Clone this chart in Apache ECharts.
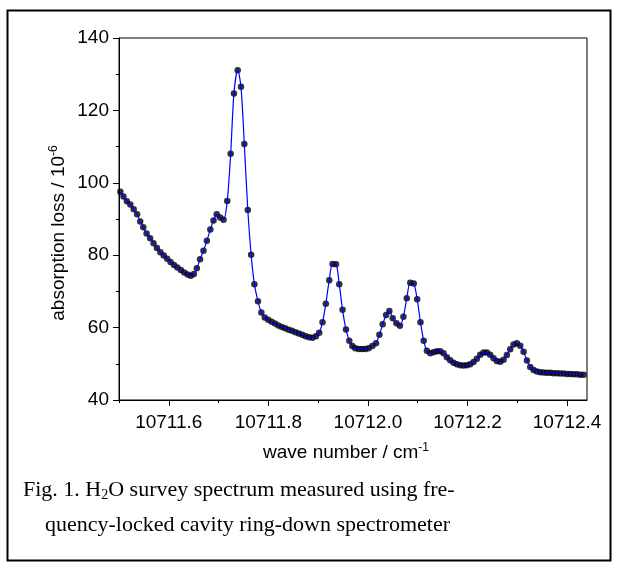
<!DOCTYPE html>
<html>
<head>
<meta charset="utf-8">
<script src="https://cdn.jsdelivr.net/npm/echarts@6/dist/echarts.min.js"></script>
<style>
html,body{margin:0;padding:0;background:#fff;}
#chart{width:621px;height:569px;}
</style>
</head>
<body>
<div id="chart"></div>
<script>
// wave number (cm^-1)
var waveNumber = [
10711.5027,10711.5090,10711.5158,10711.5227,10711.5295,10711.5364,10711.5426,10711.5488,10711.5555,10711.5625,
10711.5694,10711.5762,10711.5831,10711.5899,10711.5968,10711.6036,10711.6105,10711.6173,10711.6242,10711.6310,
10711.6379,10711.6443,10711.6504,10711.6564,10711.6628,10711.6697,10711.6765,10711.6834,10711.6898,10711.6963,
10711.7031,10711.7100,10711.7174,10711.7243,10711.7309,10711.7384,10711.7450,10711.7517,10711.7587,10711.7654,
10711.7720,10711.7791,10711.7859,10711.7928,10711.7996,10711.8065,10711.8133,10711.8201,10711.8270,10711.8338,
10711.8407,10711.8475,10711.8544,10711.8612,10711.8681,10711.8749,10711.8818,10711.8886,10711.8955,10711.9021,
10711.9088,10711.9154,10711.9223,10711.9289,10711.9358,10711.9424,10711.9490,10711.9559,10711.9625,10711.9686,
10711.9746,10711.9813,10711.9881,10711.9948,10712.0014,10712.0089,10712.0163,10712.0230,10712.0296,10712.0365,
10712.0431,10712.0498,10712.0572,10712.0643,10712.0713,10712.0780,10712.0850,10712.0920,10712.0989,10712.1055,
10712.1120,10712.1184,10712.1251,10712.1317,10712.1384,10712.1452,10712.1519,10712.1585,10712.1652,10712.1719,
10712.1786,10712.1853,10712.1920,10712.1987,10712.2054,10712.2121,10712.2188,10712.2255,10712.2322,10712.2389,
10712.2456,10712.2523,10712.2590,10712.2657,10712.2724,10712.2791,10712.2858,10712.2925,10712.2992,10712.3059,
10712.3126,10712.3193,10712.3260,10712.3327,10712.3394,10712.3461,10712.3528,10712.3595,10712.3662,10712.3729,
10712.3796,10712.3863,10712.3930,10712.3997,10712.4064,10712.4131,10712.4198,10712.4265,10712.4332
];
// absorption loss (10^-6)
var absorptionLoss = [
97.5,96.2,94.9,94.0,92.7,91.3,89.3,87.7,86.0,84.7,
83.3,82.0,80.8,79.9,79.0,78.1,77.3,76.6,75.9,75.2,
74.7,74.3,74.8,76.4,78.9,81.2,84.0,87.1,89.6,91.3,
90.4,89.8,95.0,108.0,124.7,131.1,126.5,110.7,92.5,80.1,
72.0,67.3,64.2,62.8,62.2,61.6,61.1,60.6,60.2,59.8,
59.4,59.1,58.7,58.4,58.0,57.6,57.3,57.2,57.6,58.6,
61.5,66.6,73.1,77.6,77.5,72.0,64.9,59.5,56.4,54.9,
54.3,54.1,54.1,54.1,54.3,54.9,55.7,58.0,60.9,63.5,
64.6,62.6,61.2,60.5,63.0,68.1,72.4,72.2,67.8,61.5,
56.4,53.6,52.9,53.2,53.5,53.5,52.9,51.8,51.0,50.3,
49.9,49.6,49.5,49.6,49.9,50.5,51.4,52.5,53.1,53.1,
52.5,51.5,50.8,50.6,51.1,52.4,54.0,55.3,55.7,55.0,
53.3,50.9,49.1,48.3,47.9,47.7,47.6,47.5,47.5,47.4,
47.4,47.3,47.3,47.2,47.2,47.1,47.1,47.0,47.0
];
var xMajorTicks = [10711.6,10711.8,10712.0,10712.2,10712.4];
var xMinorTicks = [10711.5,10711.7,10711.9,10712.1,10712.3];
var yTicks = [40,60,80,100,120,140];

var pts = waveNumber.map(function(x,i){return [x, absorptionLoss[i]];});

var chart = echarts.init(document.getElementById('chart'), null, {renderer:'canvas'});
var SANS = 'Liberation Sans, Arial, sans-serif';
var SERIF = 'Liberation Serif, Times New Roman, serif';
var option = {
  backgroundColor:'#fff',
  animation:false,
  grid:{left:119,top:38,right:34,bottom:169,show:true,borderColor:'#000',borderWidth:1,backgroundColor:'transparent'},
  xAxis:[{
    type:'value',min:10711.5,max:10712.44,
    axisLine:{show:true,onZero:false,lineStyle:{color:'#000',width:1}},
    axisTick:{show:true,inside:false,length:6,customValues:xMajorTicks,lineStyle:{color:'#000'}},
    axisLabel:{show:true,margin:13,customValues:xMajorTicks,color:'#000',fontFamily:SANS,fontSize:19,
      formatter:function(v){return v.toFixed(1);}},
    splitLine:{show:false}
  },{
    type:'value',min:10711.5,max:10712.44,position:'bottom',
    axisLine:{show:false},
    axisTick:{show:true,inside:false,length:3,customValues:xMinorTicks,lineStyle:{color:'#000'}},
    axisLabel:{show:false},splitLine:{show:false}
  }],
  yAxis:{
    type:'value',min:40,max:140,interval:20,
    axisLine:{show:true,onZero:false,lineStyle:{color:'#000',width:1}},
    axisTick:{show:true,inside:false,length:6,lineStyle:{color:'#000'}},
    minorTick:{show:true,splitNumber:2,length:3,lineStyle:{color:'#000'}},
    axisLabel:{margin:10,color:'#000',fontFamily:SANS,fontSize:19,
      customValues:yTicks},
    splitLine:{show:false}
  },
  series:[{
    type:'scatter',data:pts,xAxisIndex:0,symbol:'circle',symbolSize:6.5,
    itemStyle:{color:'#000'},z:2
  },{
    type:'line',data:pts,xAxisIndex:0,showSymbol:false,smooth:0.3,
    lineStyle:{color:'#0000ff',width:1.2},z:3
  }],
  graphic:[
    {type:'rect',shape:{x:7.5,y:10.5,width:603,height:550},style:{fill:'none',stroke:'#000',lineWidth:2},z:-1},
    {type:'text',x:59,y:233,rotation:Math.PI/2,style:{
      text:'{a|absorption loss / 10}{s|-6}',align:'center',verticalAlign:'middle',
      rich:{a:{fontFamily:SANS,fontSize:19,fill:'#000'},s:{fontFamily:SANS,fontSize:12,fill:'#000',verticalAlign:'top',padding:[0,0,10,0]}}}},
    {type:'text',x:346,y:453,style:{
      text:'{a|wave number / cm}{s|-1}',align:'center',verticalAlign:'middle',
      rich:{a:{fontFamily:SANS,fontSize:19,fill:'#000'},s:{fontFamily:SANS,fontSize:12,fill:'#000',padding:[0,0,10,0]}}}},
    {type:'text',x:23,y:490,style:{
      text:'{a|Fig. 1. H}{b|2}{a|O survey spectrum measured using fre-}',align:'left',verticalAlign:'middle',
      rich:{a:{fontFamily:SERIF,fontSize:22,fill:'#000'},b:{fontFamily:SERIF,fontSize:14,fill:'#000',padding:[10,0,0,0]}}}},
    {type:'text',x:45,y:525,style:{
      text:'quency-locked cavity ring-down spectrometer',align:'left',verticalAlign:'middle',
      fontFamily:SERIF,fontSize:22,fill:'#000'}}
  ]
};
chart.setOption(option);
</script>
</body>
</html>
